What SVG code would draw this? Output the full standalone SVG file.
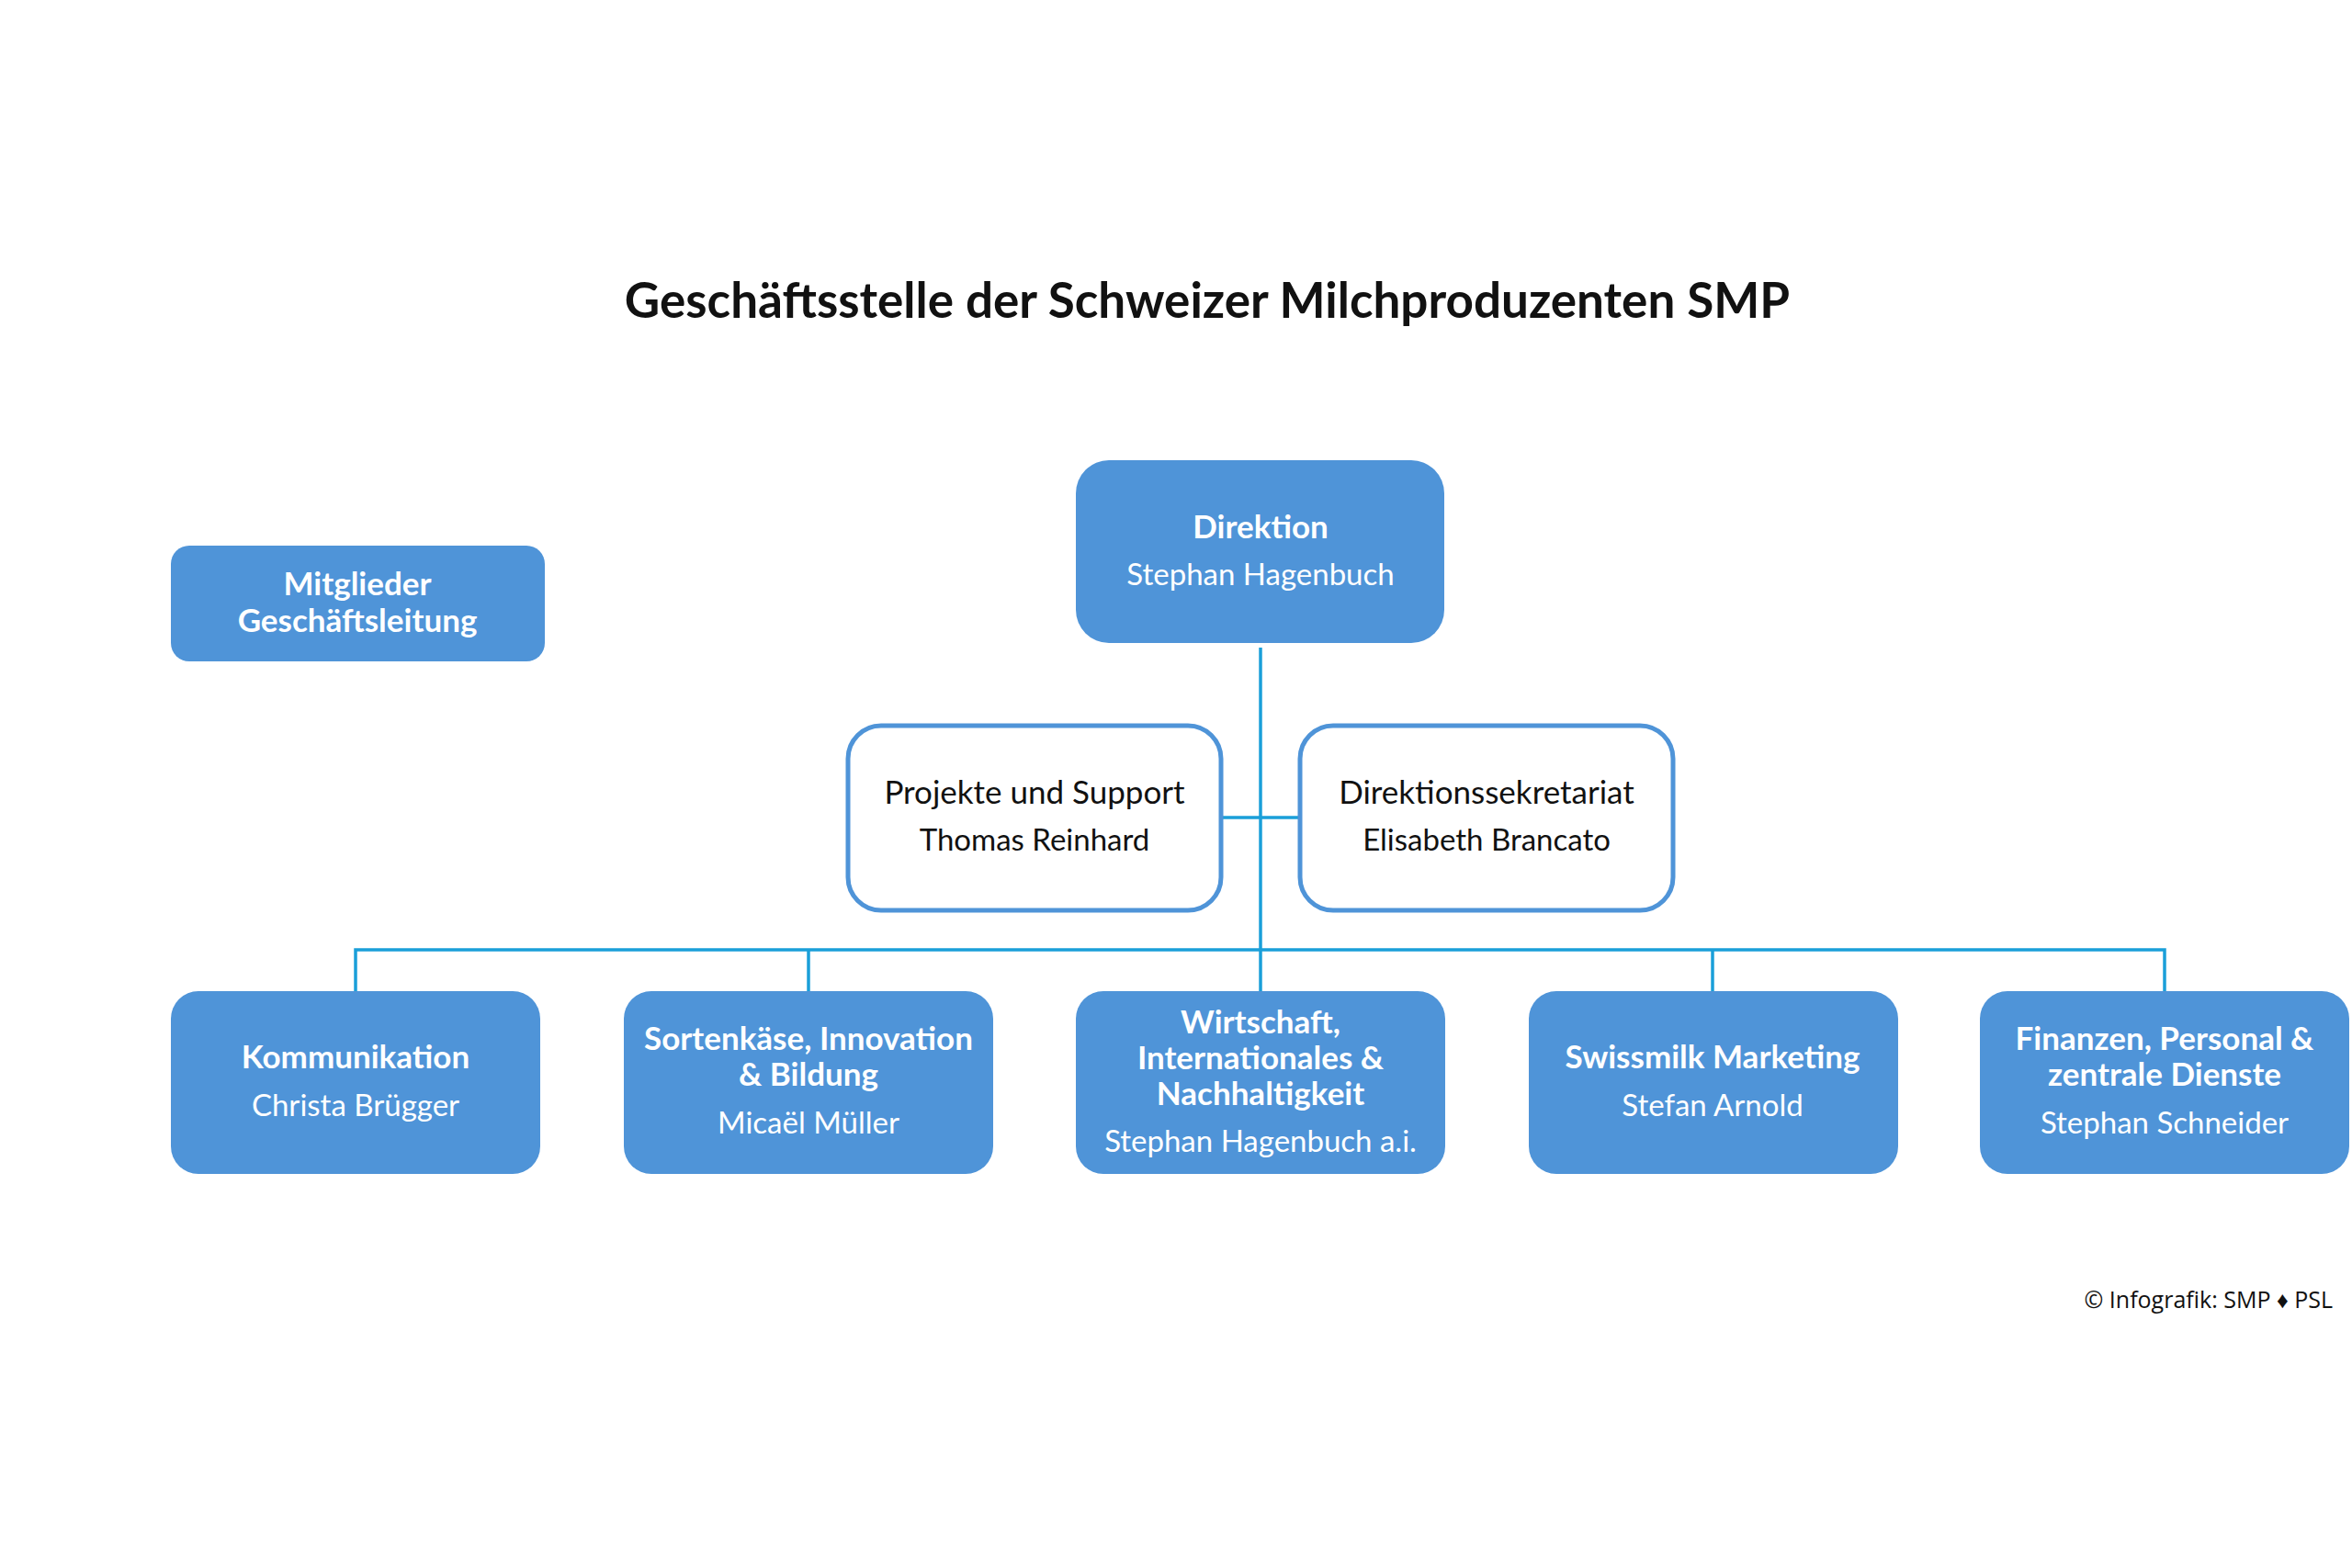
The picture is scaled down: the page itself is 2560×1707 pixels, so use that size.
<svg xmlns="http://www.w3.org/2000/svg" width="2560" height="1707" viewBox="0 0 2560 1707">
<style>
.fill{fill:#4f94d8}
.out{fill:#ffffff;stroke:#4f94d8;stroke-width:5}
.b{font-family:Lato,"Open Sans",sans-serif;font-weight:700;font-size:35px;fill:#ffffff;text-anchor:middle}
.n{font-family:Lato,"Open Sans",sans-serif;font-weight:400;font-size:33px;fill:#ffffff;text-anchor:middle}
.k{font-family:Lato,"Open Sans",sans-serif;font-weight:400;font-size:35px;fill:#111111;text-anchor:middle}
.k2{font-family:Lato,"Open Sans",sans-serif;font-weight:400;font-size:33px;fill:#111111;text-anchor:middle}
.con{stroke:#1a9fd9;stroke-width:3.5;fill:none}
</style>
<rect width="2560" height="1707" fill="#ffffff"/>
<text id="title" x="1314" y="346" font-family="Lato,'Open Sans',sans-serif" font-weight="700" font-size="53" fill="#111111" text-anchor="middle">Geschäftsstelle der Schweizer Milchproduzenten SMP</text>
<g id="connectors">
<path class="con" d="M1372 705 V1079"/>
<path class="con" d="M1329 890 H1414"/>
<path class="con" d="M387 1079 V1034 H2356 V1079"/>
<path class="con" d="M880 1034 V1079"/>
<path class="con" d="M1864 1034 V1079"/>
</g>
<g id="mitglieder">
<rect class="fill" x="186" y="594" width="407" height="126" rx="20"/>
<text class="b" x="389" y="648">Mitglieder</text>
<text class="b" x="389" y="688">Geschäftsleitung</text>
</g>
<g id="direktion">
<rect class="fill" x="1171" y="501" width="401" height="199" rx="36"/>
<text class="b" x="1372" y="586">Direktion</text>
<text class="n" x="1372" y="637">Stephan Hagenbuch</text>
</g>
<g id="projekte">
<rect class="out" x="923" y="790" width="406" height="201" rx="36"/>
<text class="k" x="1126" y="875">Projekte und Support</text>
<text class="k2" x="1126" y="926">Thomas Reinhard</text>
</g>
<g id="sekretariat">
<rect class="out" x="1415" y="790" width="406" height="201" rx="36"/>
<text class="k" x="1618" y="875">Direktionssekretariat</text>
<text class="k2" x="1618" y="926">Elisabeth Brancato</text>
</g>
<g id="kommunikation">
<rect class="fill" x="186" y="1079" width="402" height="199" rx="30"/>
<text class="b" x="387" y="1163">Kommunikation</text>
<text class="n" x="387" y="1215">Christa Brügger</text>
</g>
<g id="sortenkaese">
<rect class="fill" x="679" y="1079" width="402" height="199" rx="30"/>
<text class="b" x="880" y="1143">Sortenkäse, Innovation</text>
<text class="b" x="880" y="1182">&amp; Bildung</text>
<text class="n" x="880" y="1234">Micaël Müller</text>
</g>
<g id="wirtschaft">
<rect class="fill" x="1171" y="1079" width="402" height="199" rx="30"/>
<text class="b" x="1372" y="1125">Wirtschaft,</text>
<text class="b" x="1372" y="1164">Internationales &amp;</text>
<text class="b" x="1372" y="1203">Nachhaltigkeit</text>
<text class="n" x="1372" y="1254">Stephan Hagenbuch a.i.</text>
</g>
<g id="swissmilk">
<rect class="fill" x="1664" y="1079" width="402" height="199" rx="30"/>
<text class="b" x="1864" y="1163">Swissmilk Marketing</text>
<text class="n" x="1864" y="1215">Stefan Arnold</text>
</g>
<g id="finanzen">
<rect class="fill" x="2155" y="1079" width="402" height="199" rx="30"/>
<text class="b" x="2356" y="1143">Finanzen, Personal &amp;</text>
<text class="b" x="2356" y="1182">zentrale Dienste</text>
<text class="n" x="2356" y="1234">Stephan Schneider</text>
</g>
<text id="credit" x="2539" y="1424" font-family="'Open Sans',Lato,sans-serif" font-size="25" fill="#111111" text-anchor="end">© Infografik: SMP ♦ PSL</text>
</svg>
